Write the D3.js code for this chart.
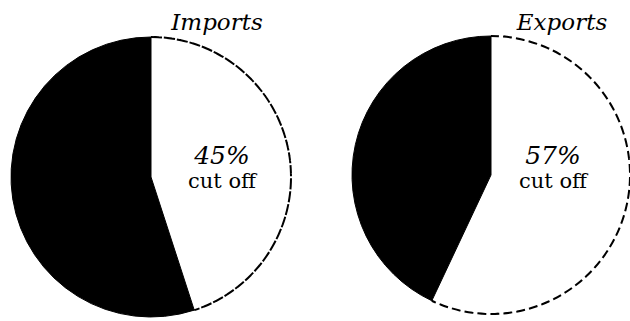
<!DOCTYPE html>
<html>
<head>
<meta charset="utf-8">
<script src="https://cdn.jsdelivr.net/npm/d3@7"></script>
<style>
  html, body { margin: 0; padding: 0; background: #fff; }
  svg { display: block; }
  text { font-family: "DejaVu Serif", "Liberation Serif", serif; fill: #000; }
</style>
</head>
<body>
<svg id="chart" width="630" height="321"></svg>
<script>
// Share of trade cut off vs. retained, one pie per flow
const flows = ["Imports", "Exports"];
const cutOffPct = [45, 57];
const retainedPct = [55, 43];
const subLabel = "cut off";

const layout = [
  { cx: 151, cy: 177, r: 140, titleX: 217, labelX: 222 },
  { cx: 491, cy: 175, r: 139, titleX: 562, labelX: 553 }
];

const svg = d3.select("#chart");

const pie = d3.pie().sort(null).value(d => d.value);

flows.forEach((name, i) => {
  const L = layout[i];
  const data = [
    { key: "cut", value: cutOffPct[i] },
    { key: "kept", value: retainedPct[i] }
  ];
  const arcs = pie(data);
  const g = svg.append("g").attr("transform", `translate(${L.cx},${L.cy})`);

  const arc = d3.arc().innerRadius(0).outerRadius(L.r);
  const rim = d3.arc().innerRadius(L.r).outerRadius(L.r);

  g.selectAll("path.slice")
    .data(arcs)
    .join("path")
    .attr("class", "slice")
    .attr("d", arc)
    .attr("fill", d => d.data.key === "cut" ? "#fff" : "#000")
    .attr("stroke", d => d.data.key === "cut" ? "none" : "#000")
    .attr("stroke-width", 1);

  // dashed rim around the removed share
  g.append("path")
    .attr("d", rim(arcs[0]))
    .attr("fill", "none")
    .attr("stroke", "#000")
    .attr("stroke-width", 2)
    .attr("stroke-dasharray", "8,5");

  svg.append("text")
    .attr("x", L.titleX)
    .attr("y", 30)
    .attr("text-anchor", "middle")
    .style("font-style", "italic")
    .style("font-size", "23px")
    .text(name);

  svg.append("text")
    .attr("x", L.labelX)
    .attr("y", 164)
    .attr("text-anchor", "middle")
    .style("font-style", "italic")
    .style("font-size", "25px")
    .text(cutOffPct[i] + "%");

  svg.append("text")
    .attr("x", L.labelX)
    .attr("y", 188)
    .attr("text-anchor", "middle")
    .style("font-size", "21px")
    .text(subLabel);
});
</script>
</body>
</html>
